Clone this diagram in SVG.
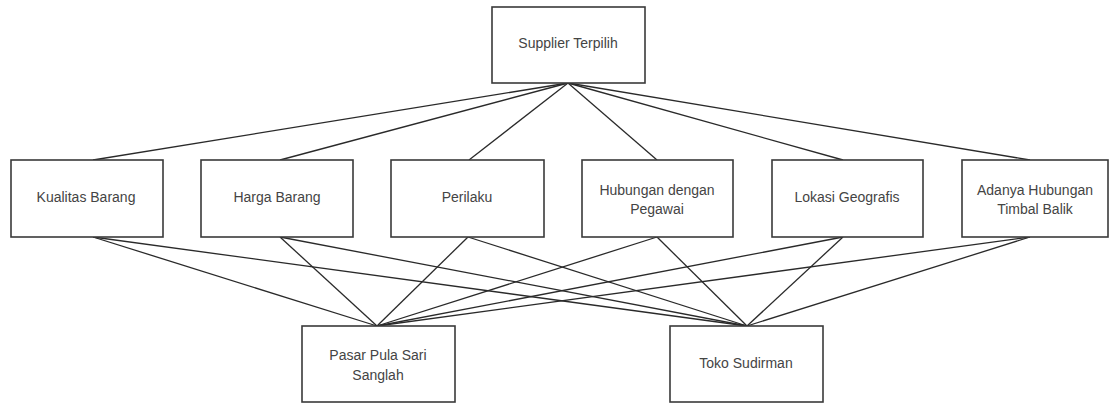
<svg xmlns="http://www.w3.org/2000/svg" width="1110" height="403" viewBox="0 0 1110 403">
<style>
.box{fill:#fff;stroke:#3a3a3a;stroke-width:1.6}
.t{font-family:"Liberation Sans",Arial,sans-serif;font-size:14px;fill:#444;text-anchor:middle}
.c{stroke:#2a2a2a;stroke-width:1.3;fill:none}
</style>
<rect width="1110" height="403" fill="#fff"/>
<g id="connectors">
<line class="c" x1="568" y1="83" x2="93" y2="160"/>
<line class="c" x1="568" y1="83" x2="280" y2="160"/>
<line class="c" x1="568" y1="83" x2="469" y2="160"/>
<line class="c" x1="568" y1="83" x2="657" y2="160"/>
<line class="c" x1="568" y1="83" x2="843" y2="160"/>
<line class="c" x1="568" y1="83" x2="1030" y2="160"/>
<line class="c" x1="93" y1="237" x2="377" y2="326"/>
<line class="c" x1="93" y1="237" x2="747" y2="326"/>
<line class="c" x1="280" y1="237" x2="377" y2="326"/>
<line class="c" x1="280" y1="237" x2="747" y2="326"/>
<line class="c" x1="468" y1="237" x2="377" y2="326"/>
<line class="c" x1="468" y1="237" x2="747" y2="326"/>
<line class="c" x1="657" y1="237" x2="377" y2="326"/>
<line class="c" x1="657" y1="237" x2="747" y2="326"/>
<line class="c" x1="843" y1="237" x2="377" y2="326"/>
<line class="c" x1="843" y1="237" x2="747" y2="326"/>
<line class="c" x1="1030" y1="237" x2="377" y2="326"/>
<line class="c" x1="1030" y1="237" x2="747" y2="326"/>
</g>
<g id="supplier"><rect class="box" x="492" y="7" width="153" height="76"/><text class="t" x="568" y="48">Supplier Terpilih</text></g>
<g id="kualitas"><rect class="box" x="11" y="160" width="152" height="77"/><text class="t" x="86" y="202">Kualitas Barang</text></g>
<g id="harga"><rect class="box" x="201" y="160" width="152" height="77"/><text class="t" x="277" y="202">Harga Barang</text></g>
<g id="perilaku"><rect class="box" x="391" y="160" width="153" height="77"/><text class="t" x="467" y="202">Perilaku</text></g>
<g id="hubungan"><rect class="box" x="582" y="160" width="151" height="77"/><text class="t" x="657" y="195">Hubungan dengan</text><text class="t" x="657" y="214">Pegawai</text></g>
<g id="lokasi"><rect class="box" x="772" y="160" width="151" height="77"/><text class="t" x="847" y="202">Lokasi Geografis</text></g>
<g id="adanya"><rect class="box" x="962" y="160" width="146" height="77"/><text class="t" x="1035" y="195">Adanya Hubungan</text><text class="t" x="1035" y="214">Timbal Balik</text></g>
<g id="pasar"><rect class="box" x="302" y="326" width="153" height="76"/><text class="t" x="378" y="360">Pasar Pula Sari</text><text class="t" x="378" y="380">Sanglah</text></g>
<g id="toko"><rect class="box" x="670" y="326" width="153" height="76"/><text class="t" x="746" y="368">Toko Sudirman</text></g>
</svg>
